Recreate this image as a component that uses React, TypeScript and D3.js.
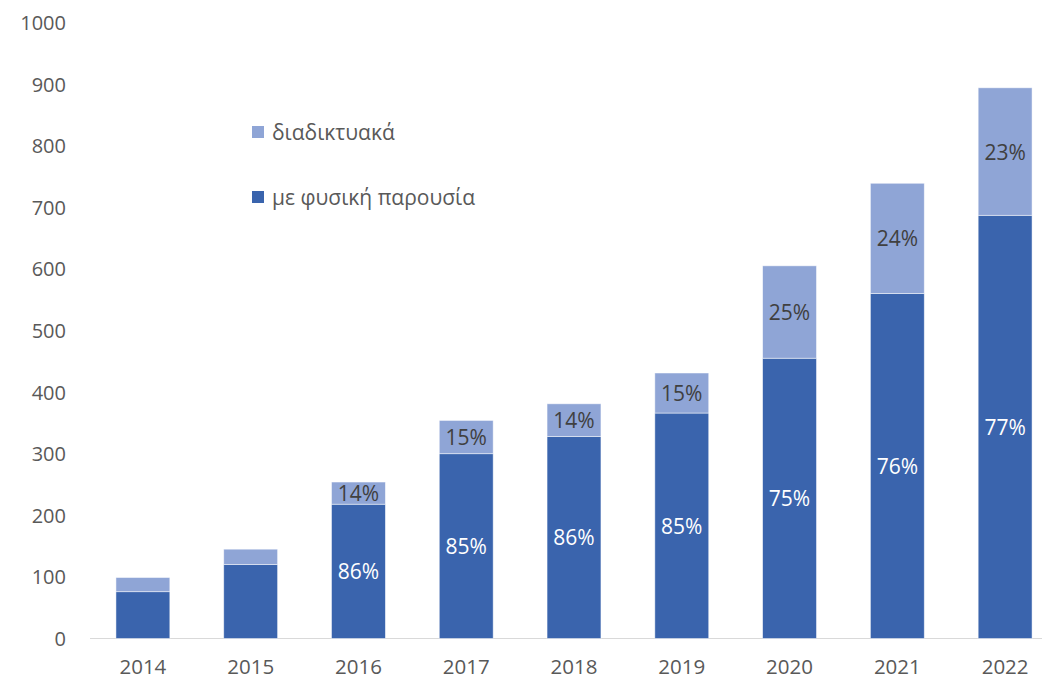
import React from "react";
import * as d3 from "d3";

const years = ["2014", "2015", "2016", "2017", "2018", "2019", "2020", "2021", "2022"];
const inPerson = [76, 120, 218, 300, 328, 366, 455, 560, 687];
const online = [23, 25, 36, 54, 53, 65, 150, 179, 207];
const inPersonLabels = ["", "", "86%", "85%", "86%", "85%", "75%", "76%", "77%"];
const onlineLabels = ["", "", "14%", "15%", "14%", "15%", "25%", "24%", "23%"];
const yTicks = [0, 100, 200, 300, 400, 500, 600, 700, 800, 900, 1000];
const legendItems = [
  { name: "διαδικτυακά", color: "#8fa5d6" },
  { name: "με φυσική παρουσία", color: "#3a64ad" },
];

const W = 1042;
const H = 679;
const FONT = "'Open Sans', sans-serif";

const App = () => {
  const x = d3.scaleBand<string>().domain(years).range([89, 1059]).paddingInner(0.5).paddingOuter(0.25);
  const y = d3.scaleLinear().domain([0, 1000]).range([638.5, 22.5]);
  const bw = x.bandwidth();

  return (
    <svg width={W} height={H} style={{ position: "absolute", left: 0, top: 0, background: "#fff" }}>
      {/* y axis labels */}
      {yTicks.map(t => (
        <text key={t} x={66} y={y(t)} textAnchor="end" dominantBaseline="central"
          fontFamily={FONT} fontSize={20} fill="#595959">{t}</text>
      ))}
      {/* x axis line */}
      <line x1={90} x2={W} y1={y(0)} y2={y(0)} stroke="#d9d9d9" strokeWidth={1.2} />
      {years.map((yr, i) => {
        const x0 = x(yr)!;
        const cx = x0 + bw / 2;
        const dTop = y(inPerson[i]);
        const tTop = y(inPerson[i] + online[i]);
        return (
          <g key={yr}>
            <rect x={x0} y={dTop} width={bw} height={y(0) - dTop} fill="#3a64ad" stroke="#ffffff" strokeOpacity={0.6} strokeWidth={0.8} />
            <rect x={x0} y={tTop} width={bw} height={dTop - tTop} fill="#8fa5d6" stroke="#ffffff" strokeOpacity={0.6} strokeWidth={0.8} />
            {inPersonLabels[i] && (
              <text x={cx} y={(dTop + y(0)) / 2} textAnchor="middle" dominantBaseline="central"
                fontFamily={FONT} fontSize={21} fill="#ffffff">{inPersonLabels[i]}</text>
            )}
            {onlineLabels[i] && (
              <text x={cx} y={(tTop + dTop) / 2} textAnchor="middle" dominantBaseline="central"
                fontFamily={FONT} fontSize={21} fill="#404040">{onlineLabels[i]}</text>
            )}
            <text x={cx} y={666} textAnchor="middle" dominantBaseline="central"
              fontFamily={FONT} fontSize={20.5} fill="#595959">{yr}</text>
          </g>
        );
      })}
      {/* legend */}
      {legendItems.map((it, i) => (
        <g key={it.name} transform={`translate(252, ${132 + i * 65})`}>
          <rect x={0} y={-6} width={12} height={12} fill={it.color} />
          <text x={20} y={0} dominantBaseline="central" fontFamily={FONT} fontSize={21} fill="#595959">{it.name}</text>
        </g>
      ))}
    </svg>
  );
};

export default App;
